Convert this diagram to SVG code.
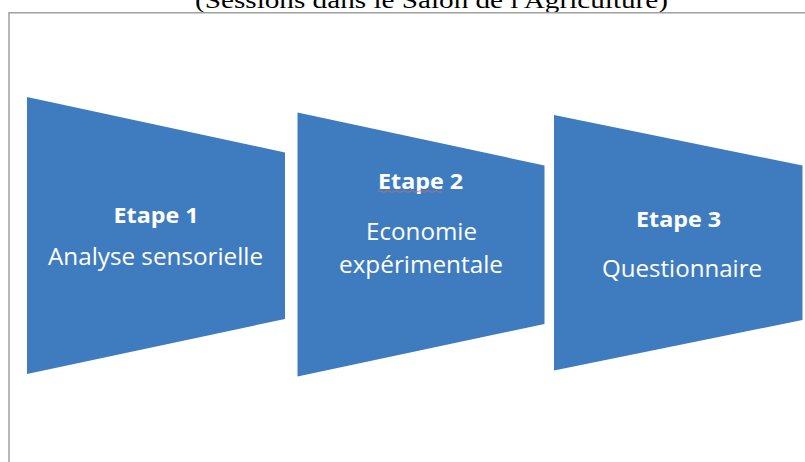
<svg xmlns="http://www.w3.org/2000/svg" width="805" height="462" viewBox="0 0 805 462">
<style>
.shape{fill:#3F7CBF}
.b{font-family:"Open Sans","Liberation Sans",sans-serif;font-weight:bold;font-size:22px;fill:#ffffff;text-anchor:middle}
.r{font-family:"Open Sans","Liberation Sans",sans-serif;font-size:23px;fill:#ffffff;text-anchor:middle}
.frame{fill:none;stroke:#a0a0a0;stroke-width:1.5}
</style>
<rect width="805" height="462" fill="#ffffff"/>
<text x="431.5" y="8" font-family="'Liberation Serif','Times New Roman',serif" font-size="23" fill="#000000" text-anchor="middle" textLength="473" lengthAdjust="spacingAndGlyphs">(Sessions dans le Salon de l'Agriculture)</text>
<path class="frame" d="M9,462 V12.75 H805"/>
<g id="node1">
<polygon class="shape" points="27,97 285,152.5 285,319 27,374"/>
<text class="b" x="156" y="223" textLength="85" lengthAdjust="spacingAndGlyphs">Etape 1</text>
<text class="r" x="155.5" y="265" textLength="215" lengthAdjust="spacingAndGlyphs">Analyse sensorielle</text>
</g>
<g id="node2">
<polygon class="shape" points="297.5,112.5 544.5,165.5 544.5,324 297.5,376.5"/>
<text class="b" x="420.5" y="189" textLength="85" lengthAdjust="spacingAndGlyphs">Etape 2</text>
<path d="M378,191.5 q2,-1.5 4,0 t4,0 t4,0 t4,0 t4,0 t4,0 t4,0 t4,0 t4,0 t4,0 t4,0 t4,0 t4,0 t4,0 t4,0 t4,0" fill="none" stroke="#d46a6a" stroke-width="0.8"/>
<text class="r" x="421.5" y="240" textLength="111" lengthAdjust="spacingAndGlyphs">Economie</text>
<text class="r" x="421" y="273" textLength="164" lengthAdjust="spacingAndGlyphs">expérimentale</text>
</g>
<g id="node3">
<polygon class="shape" points="554,115 802.5,165.5 802.5,320 554,370.5"/>
<text class="b" x="678.5" y="226.5" textLength="85" lengthAdjust="spacingAndGlyphs">Etape 3</text>
<text class="r" x="682" y="277" textLength="160" lengthAdjust="spacingAndGlyphs">Questionnaire</text>
</g>
<g id="connectors"></g>
</svg>
